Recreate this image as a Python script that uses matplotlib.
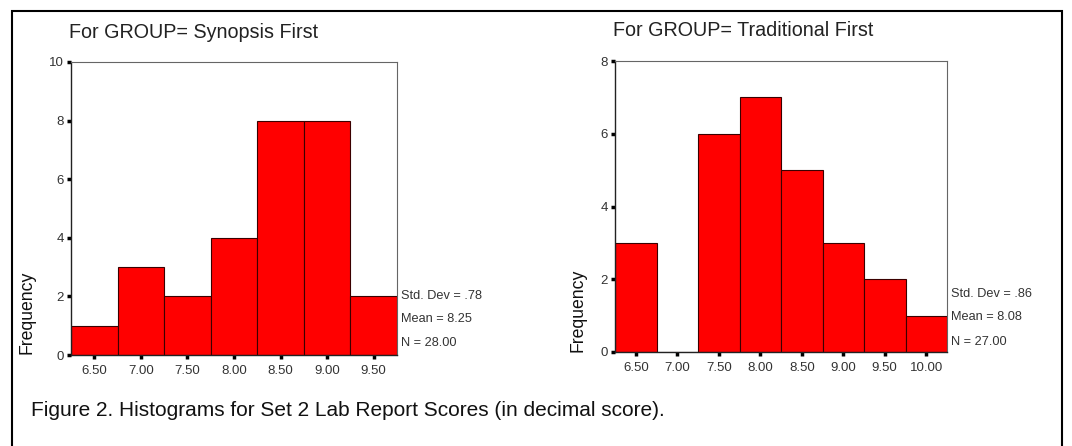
import matplotlib
matplotlib.use("Agg")
import matplotlib.pyplot as plt
from matplotlib.patches import Rectangle

plt.rcParams['font.family'] = ['Liberation Sans', 'DejaVu Sans']

# Data
left_title = "For GROUP= Synopsis First"
left_bins = [6.50, 7.00, 7.50, 8.00, 8.50, 9.00, 9.50]
left_counts = [1, 3, 2, 4, 8, 8, 2]
left_stats = ["Std. Dev = .78", "Mean = 8.25", "N = 28.00"]
left_yticks = [0, 2, 4, 6, 8, 10]

right_title = "For GROUP= Traditional First"
right_bins = [6.50, 7.00, 7.50, 8.00, 8.50, 9.00, 9.50, 10.00]
right_counts = [3, 0, 6, 7, 5, 3, 2, 1]
right_stats = ["Std. Dev = .86", "Mean = 8.08", "N = 27.00"]
right_yticks = [0, 2, 4, 6, 8]

caption = "Figure 2. Histograms for Set 2 Lab Report Scores (in decimal score)."

W, H = 1072, 446
fig = plt.figure(figsize=(W / 100, H / 100), dpi=100)

# outer frame
fig.patches.append(Rectangle((12 / W, -0.01), (1062 - 12) / W, 1 - 11 / H + 0.01,
                             transform=fig.transFigure, fill=False,
                             edgecolor='black', linewidth=1.5))


def px_axes(x0, y0, x1, y1):
    return fig.add_axes([x0 / W, 1 - y1 / H, (x1 - x0) / W, (y1 - y0) / H])


def draw(ax, bins, counts, yticks, title, stats, title_x, title_y, freq_x, freq_y, stat_x, stat_ys):
    ax.bar(bins, counts, width=0.5, color='#ff0000', edgecolor='#3a0000', linewidth=0.8, zorder=2)
    ax.set_xlim(bins[0] - 0.25, bins[-1] + 0.25)
    ax.set_ylim(0, yticks[-1])
    ax.set_xticks(bins)
    ax.set_xticklabels([f"{b:.2f}" for b in bins])
    ax.set_yticks(yticks)
    ax.tick_params(axis='both', labelsize=9.5, labelcolor='#333333', length=3, width=2.5,
                   color='black', pad=2)
    ax.tick_params(axis='x', pad=4)
    for s in ['top', 'right']:
        ax.spines[s].set_color('#666666')
        ax.spines[s].set_linewidth(0.8)
    for s in ['left', 'bottom']:
        ax.spines[s].set_color('#222222')
        ax.spines[s].set_linewidth(1.0)
    fig.text(title_x / W, 1 - title_y / H, title, fontsize=14.2, color='#222222',
             ha='left', va='center')
    fig.text(freq_x / W, 1 - freq_y / H, "Frequency", fontsize=12.7,
             rotation=90, ha='center', va='bottom', color='#111111')
    for s, yy in zip(stats, stat_ys):
        fig.text(stat_x / W, 1 - yy / H, s, fontsize=9.2, color='#333333', ha='left', va='center')


axL = px_axes(71, 62, 397, 355)
draw(axL, left_bins, left_counts, left_yticks, left_title, left_stats,
     69, 33, 27, 354, 401, [296, 319, 343])

axR = px_axes(615, 61, 947, 352)
draw(axR, right_bins, right_counts, right_yticks, right_title, right_stats,
     613, 31, 578, 352, 951, [294, 317, 342])

fig.text(31 / W, 1 - 411 / H, caption, fontsize=15, color='#111111', ha='left', va='center')

fig.savefig("out.png", dpi=100)
